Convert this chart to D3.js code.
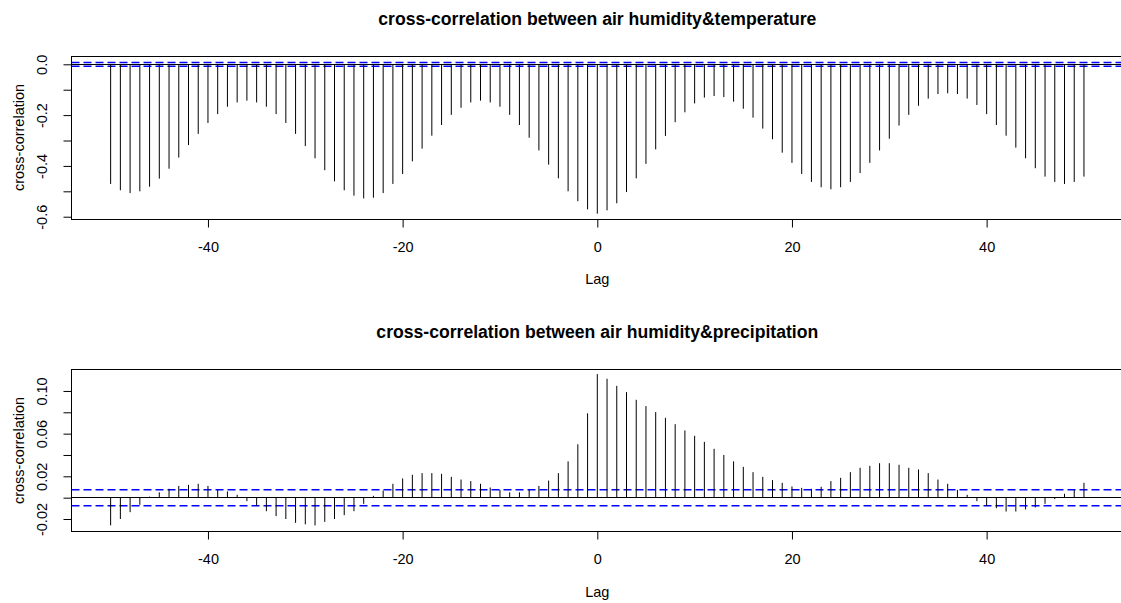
<!DOCTYPE html>
<html>
<head>
<meta charset="utf-8">
<script src="https://cdn.jsdelivr.net/npm/d3@7"></script>
<style>
  body { margin: 0; background: #fff; }
  svg { display: block; }
  text { font-family: "Liberation Sans", Arial, sans-serif; fill: #000; }
</style>
</head>
<body>
<svg id="chart" width="1121" height="603"></svg>
<script>
// Lags of the cross-correlation function
const lags = d3.range(-50, 51);

// Cross-correlation: air humidity vs temperature (lag -50 .. 50)
const tempCcf = [
  -0.471, -0.496, -0.507, -0.500, -0.482, -0.450, -0.411, -0.367, -0.318, -0.274,
  -0.231, -0.196, -0.167, -0.150, -0.143, -0.150, -0.167, -0.196, -0.231, -0.274,
  -0.322, -0.370, -0.417, -0.461, -0.496, -0.517, -0.528, -0.525, -0.507, -0.471,
  -0.432, -0.382, -0.332, -0.281, -0.239, -0.199, -0.171, -0.150, -0.143, -0.150,
  -0.167, -0.199, -0.239, -0.289, -0.339, -0.395, -0.449, -0.500, -0.539, -0.571,
  -0.588,
  -0.575, -0.547, -0.503, -0.449, -0.392, -0.335, -0.282, -0.228, -0.189, -0.154,
  -0.131, -0.125, -0.129, -0.147, -0.175, -0.210, -0.253, -0.295, -0.348, -0.388,
  -0.432, -0.463, -0.484, -0.492, -0.484, -0.463, -0.428, -0.388, -0.339, -0.293,
  -0.241, -0.199, -0.163, -0.135, -0.117, -0.114, -0.117, -0.135, -0.160, -0.196,
  -0.239, -0.281, -0.328, -0.370, -0.409, -0.442, -0.463, -0.471, -0.463, -0.442
];

// Cross-correlation: air humidity vs precipitation (lag -50 .. 50)
const precCcf = [
  -0.026, -0.020, -0.0136, -0.0067, 0.001, 0.005, 0.0083, 0.011, 0.012, 0.013,
  0.011, 0.0073, 0.0058, 0.0027, -0.0033, -0.0073, -0.0127, -0.0173, -0.020, -0.0236,
  -0.025, -0.026, -0.0227, -0.020, -0.0164, -0.0127, -0.0058, 0.0017, 0.0067, 0.013,
  0.018, 0.0214, 0.023, 0.023, 0.0223, 0.0195, 0.017, 0.0155, 0.013, 0.0095,
  0.0073, 0.005, 0.005, 0.0073, 0.011, 0.016, 0.023, 0.034, 0.050, 0.079,
  0.1158,
  0.1114, 0.1048, 0.0989, 0.0917, 0.0858, 0.0802, 0.0748, 0.0689, 0.063, 0.058,
  0.0523, 0.0458, 0.040, 0.034, 0.0289, 0.0239, 0.0195, 0.0164, 0.0139, 0.0105,
  0.0092, 0.0083, 0.0102, 0.0155, 0.0186, 0.0239, 0.028, 0.0298, 0.0323, 0.0323,
  0.0308, 0.028, 0.0264, 0.023, 0.017, 0.013, 0.0073, 0.0027, -0.0033, -0.0077,
  -0.0098, -0.013, -0.013, -0.011, -0.0092, -0.0058, -0.0014, 0.0036, 0.0073, 0.0139
];

// Approximate 95% significance bound (±2/sqrt(n))
const confBound = 0.0075;

// Axis ticks and labels
const xLimits = [-54, 54];
const xTicks = [-40, -20, 0, 20, 40];
const tempYLimits = [-0.609, 0.0327];
const tempYTicks = [-0.6, -0.5, -0.4, -0.3, -0.2, -0.1, 0.0];
const tempYLabels = ["-0.6", "", "-0.4", "", "-0.2", "", "0.0"];
const precYLimits = [-0.0319, 0.1203];
const precYTicks = [-0.02, 0.0, 0.02, 0.04, 0.06, 0.08, 0.10];
const precYLabels = ["-0.02", "", "0.02", "", "0.06", "", "0.10"];

const titles = [
  "cross-correlation between air humidity&temperature",
  "cross-correlation between air humidity&precipitation"
];
const xTitle = "Lag";
const yTitle = "cross-correlation";

const svg = d3.select("#chart");
const plotLeft = 71.5, plotRight = 1122.9;
const axisFont = 14.5, titleFont = 17.6;
const FONT = '"Liberation Sans", Arial, sans-serif';

const x = d3.scaleLinear().domain(xLimits).range([71.7, plotRight]);

// snap a horizontal 1px line to the pixel grid
const crisp = v => Math.round(v - 0.5) + 0.5;

function drawPanel(cfg) {
  const { top, bottom, values, yLimits, yTicks, yLabels, title } = cfg;
  const y = d3.scaleLinear().domain(yLimits).range([bottom, top]);
  const g = svg.append("g");
  const boxTop = crisp(top), boxBottom = crisp(bottom);

  const clipId = "clip" + Math.round(top);
  svg.append("clipPath").attr("id", clipId)
    .append("rect")
    .attr("x", plotLeft).attr("y", boxTop)
    .attr("width", plotRight - plotLeft).attr("height", boxBottom - boxTop);

  const plot = g.append("g").attr("clip-path", `url(#${clipId})`);

  // zero reference line
  plot.append("line")
    .attr("x1", plotLeft).attr("x2", plotRight)
    .attr("y1", crisp(y(0))).attr("y2", crisp(y(0)))
    .attr("stroke", "#000").attr("stroke-width", 1);

  // significance bounds
  plot.selectAll("line.ci")
    .data([confBound, -confBound])
    .join("line")
    .attr("class", "ci")
    .attr("x1", plotLeft).attr("x2", plotRight)
    .attr("y1", d => y(d)).attr("y2", d => y(d))
    .attr("stroke", "#0000ff").attr("stroke-width", 1.5)
    .attr("stroke-dasharray", "8,4");

  // spikes, one per lag
  plot.selectAll("line.spike")
    .data(lags.map((l, i) => ({ lag: l, v: values[i] })))
    .join("line")
    .attr("class", "spike")
    .attr("x1", d => x(d.lag)).attr("x2", d => x(d.lag))
    .attr("y1", y(0)).attr("y2", d => y(d.v))
    .attr("stroke", "#000").attr("stroke-width", 1);

  // frame
  g.append("rect")
    .attr("x", plotLeft).attr("y", boxTop)
    .attr("width", plotRight - plotLeft).attr("height", boxBottom - boxTop)
    .attr("fill", "none").attr("stroke", "#000").attr("stroke-width", 1);

  // x axis
  const xa = g.append("g")
    .attr("transform", `translate(0,${boxBottom})`)
    .call(d3.axisBottom(x).tickValues(xTicks).tickSize(8).tickFormat(d => String(d)));
  xa.select(".domain").remove();
  xa.selectAll("line").attr("stroke", "#000");
  xa.selectAll("text")
    .attr("y", 32).attr("dy", null)
    .style("font-size", axisFont + "px")
    .style("font-family", FONT);

  // y axis
  const ya = g.append("g")
    .attr("transform", `translate(${plotLeft},0)`)
    .call(d3.axisLeft(y).tickValues(yTicks).tickSize(8)
      .tickFormat((d, i) => yLabels[i]));
  ya.select(".domain").remove();
  ya.selectAll("line").attr("stroke", "#000");
  ya.selectAll("text")
    .attr("x", null).attr("dy", null)
    .attr("text-anchor", "middle")
    .attr("transform", "translate(-24.7,0) rotate(-90)")
    .style("font-size", axisFont + "px")
    .style("font-family", FONT);

  // axis titles
  g.append("text")
    .attr("x", 597.3).attr("y", bottom + 65.3)
    .attr("text-anchor", "middle")
    .style("font-size", axisFont + "px")
    .text(xTitle);

  g.append("text")
    .attr("transform", `translate(23.5,${(top + bottom) / 2}) rotate(-90)`)
    .attr("text-anchor", "middle")
    .style("font-size", axisFont + "px")
    .text(yTitle);

  // panel title
  g.append("text")
    .attr("x", 597.3).attr("y", top - 31)
    .attr("text-anchor", "middle")
    .style("font-size", titleFont + "px")
    .style("font-weight", "bold")
    .text(title);
}

drawPanel({
  top: 56, bottom: 219, values: tempCcf,
  yLimits: tempYLimits, yTicks: tempYTicks, yLabels: tempYLabels, title: titles[0]
});
drawPanel({
  top: 369.3, bottom: 531.7, values: precCcf,
  yLimits: precYLimits, yTicks: precYTicks, yLabels: precYLabels, title: titles[1]
});
</script>
</body>
</html>
